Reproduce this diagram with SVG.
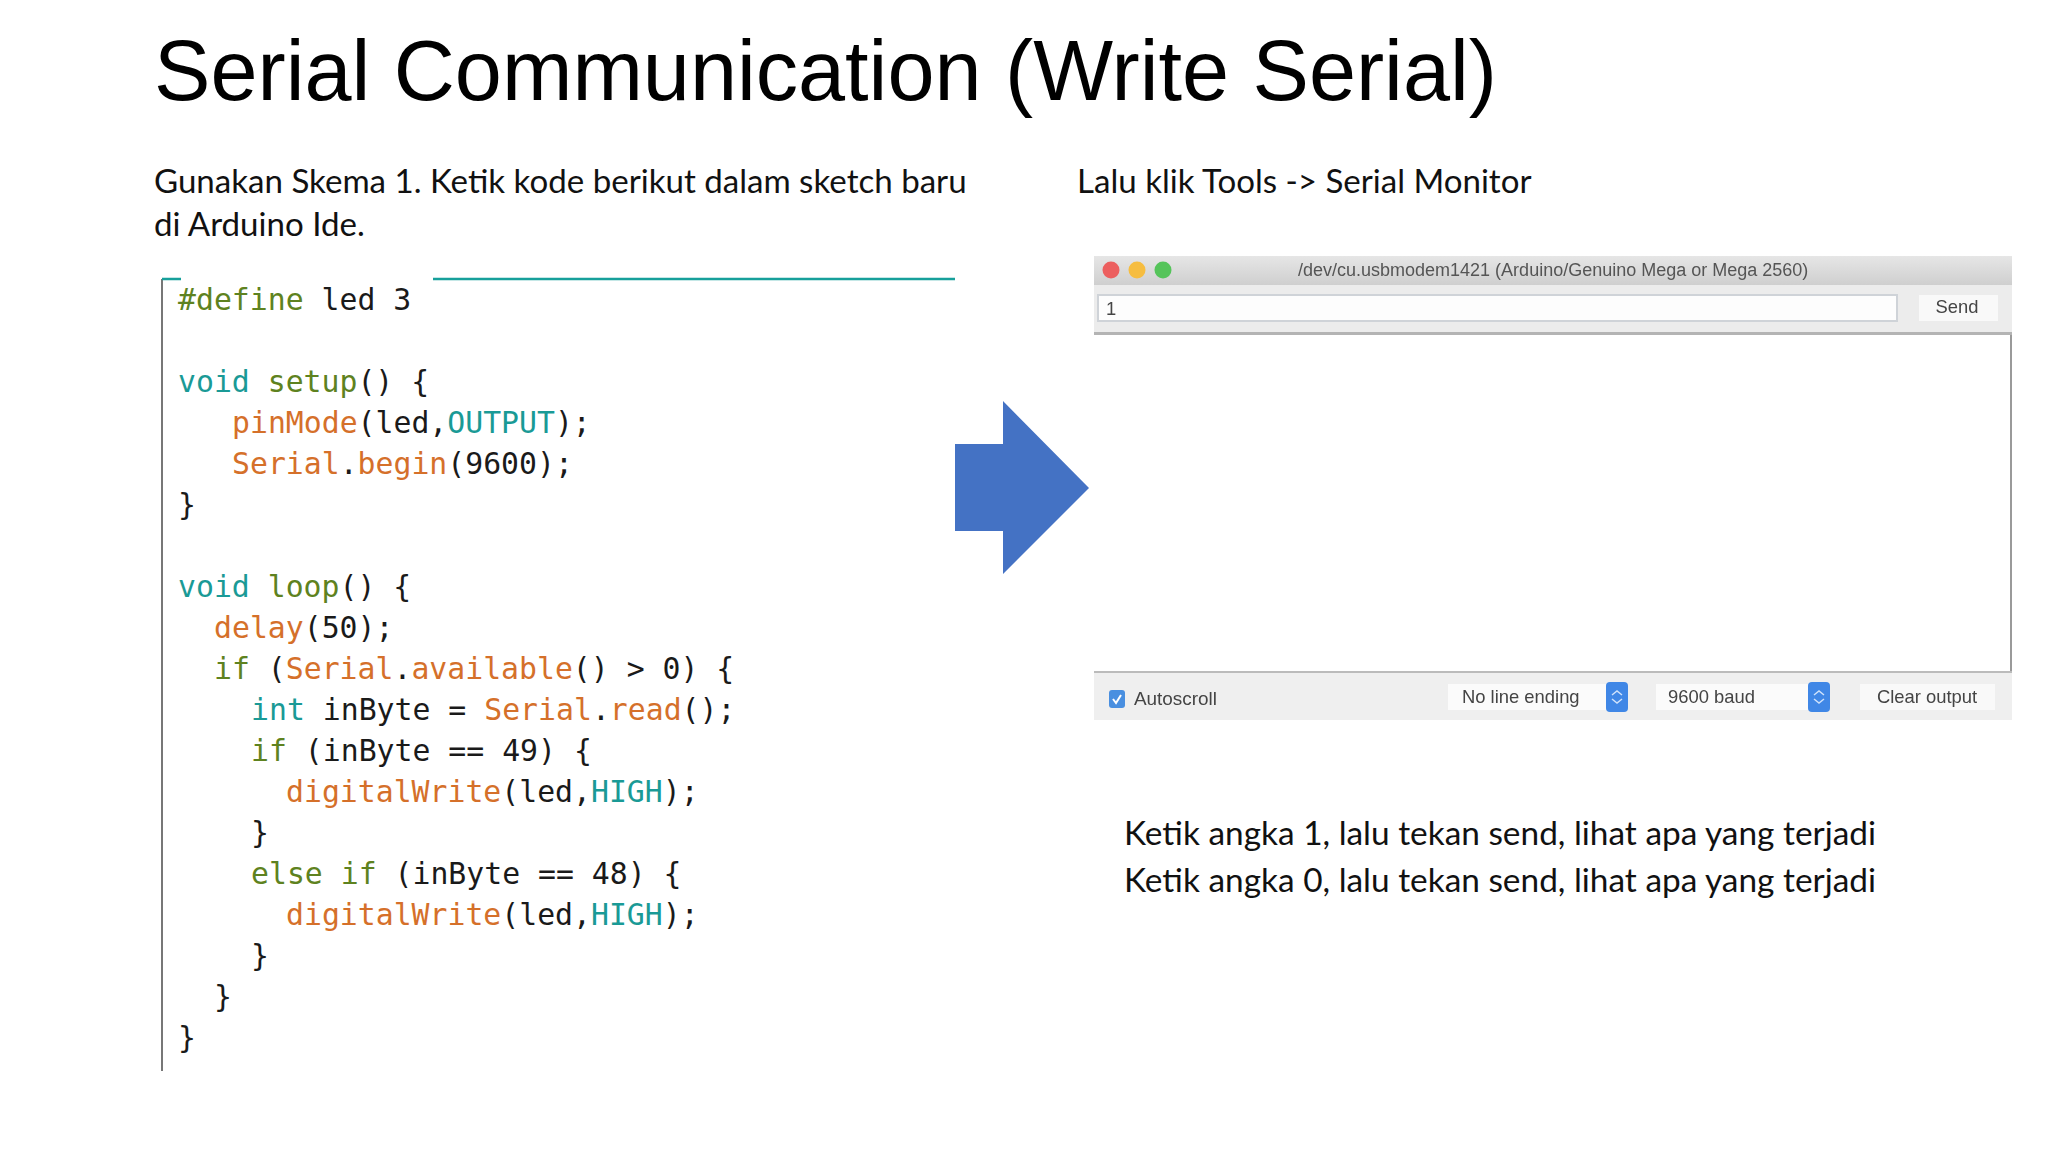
<svg xmlns="http://www.w3.org/2000/svg" width="2048" height="1152" viewBox="0 0 2048 1152">
<style>
text{white-space:pre}
.t{font-family:"Liberation Sans",Arial,sans-serif;font-size:84.6px;fill:#000}
.b{font-family:Lato,"Open Sans",sans-serif;font-size:33.1px;fill:#111}
.n2{font-size:33.4px}
.c{font-family:"DejaVu Sans Mono",monospace;font-size:29.8px;fill:#1a1a1a}
.k{fill:#5e8220}.f{fill:#d5702a}.n{fill:#1a9a96}
.u{font-family:"Liberation Sans",Arial,sans-serif;font-size:18.4px;fill:#444}
.st{fill:none;stroke:#cfe2fb;stroke-width:1.5}
</style>
<defs>
<linearGradient id="bar" x1="0" y1="0" x2="0" y2="1"><stop offset="0" stop-color="#e6e6e6"/><stop offset="1" stop-color="#cfcfcf"/></linearGradient>
<filter id="soft" x="0" y="0" width="1" height="1"><feGaussianBlur stdDeviation="0.6"/></filter>
</defs>
<rect width="2048" height="1152" fill="#fff"/>
<g id="title"><text class="t" x="154" y="100">Serial Communication (Write Serial)</text></g>
<g id="intro">
<text class="b" x="154" y="193">Gunakan Skema 1. Ketik kode berikut dalam sketch baru</text>
<text class="b" x="154" y="236">di Arduino Ide.</text>
<text class="b" x="1077" y="193">Lalu klik Tools -&gt; Serial Monitor</text>
</g>
<g id="code">
<path d="M162 1071V279" fill="none" stroke="#777" stroke-width="2"/>
<path d="M162 279H181M433 279H955" fill="none" stroke="#17a09b" stroke-width="2.5"/>
<text class="c" x="178" y="310"><tspan class="k">#define</tspan> led 3</text>
<text class="c" x="178" y="392"><tspan class="n">void</tspan> <tspan class="k">setup</tspan>() {</text>
<text class="c" x="232" y="433"><tspan class="f">pinMode</tspan>(led,<tspan class="n">OUTPUT</tspan>);</text>
<text class="c" x="232" y="474"><tspan class="f">Serial</tspan>.<tspan class="f">begin</tspan>(9600);</text>
<text class="c" x="178" y="515">}</text>
<text class="c" x="178" y="597"><tspan class="n">void</tspan> <tspan class="k">loop</tspan>() {</text>
<text class="c" x="214" y="638"><tspan class="f">delay</tspan>(50);</text>
<text class="c" x="214" y="679"><tspan class="k">if</tspan> (<tspan class="f">Serial</tspan>.<tspan class="f">available</tspan>() &gt; 0) {</text>
<text class="c" x="251" y="720"><tspan class="n">int</tspan> inByte = <tspan class="f">Serial</tspan>.<tspan class="f">read</tspan>();</text>
<text class="c" x="251" y="761"><tspan class="k">if</tspan> (inByte == 49) {</text>
<text class="c" x="286" y="802"><tspan class="f">digitalWrite</tspan>(led,<tspan class="n">HIGH</tspan>);</text>
<text class="c" x="251" y="843">}</text>
<text class="c" x="251" y="884"><tspan class="k">else if</tspan> (inByte == 48) {</text>
<text class="c" x="286" y="925"><tspan class="f">digitalWrite</tspan>(led,<tspan class="n">HIGH</tspan>);</text>
<text class="c" x="251" y="966">}</text>
<text class="c" x="214" y="1007">}</text>
<text class="c" x="178" y="1048">}</text>
</g>
<g id="arrow"><path d="M955 444H1003V401L1089 488L1003 574V531H955Z" fill="#4472c4"/></g>
<g id="serial-monitor" filter="url(#soft)">
<rect x="1094" y="256" width="918" height="463" fill="#fff"/>
<rect x="1094" y="256" width="918" height="29" fill="url(#bar)"/>
<rect x="1094" y="285" width="918" height="50" fill="#ececec"/>
<rect x="1094" y="332" width="918" height="3" fill="#b4b4b4"/>
<circle cx="1111" cy="270" r="8.500" fill="#ec5f5f"/><circle cx="1137" cy="270" r="8.500" fill="#f6bd3f"/><circle cx="1163" cy="270" r="8.500" fill="#54c45a"/>
<text class="u" x="1298" y="276" style="font-size:18px;fill:#555">/dev/cu.usbmodem1421 (Arduino/Genuino Mega or Mega 2560)</text>
<rect x="1098" y="295" width="799" height="26" fill="#fdfdfd" stroke="#cfd3d8" stroke-width="2"/>
<text class="u" x="1106" y="315">1</text>
<rect x="1919" y="295" width="79" height="26" fill="#f9f9f9"/>
<text class="u" x="1957" y="313" text-anchor="middle">Send</text>
<rect x="2010" y="335" width="2" height="384" fill="#9a9a9a"/>
<rect x="1094" y="673" width="918" height="47" fill="#efefef"/>
<rect x="1094" y="671" width="918" height="2" fill="#bbb"/>
<rect x="1109" y="690" width="16" height="18" rx="3" fill="#4a8fe0"/>
<path d="M1113 699l3 4l5-8" fill="none" stroke="#fff" stroke-width="2"/>
<text class="u" x="1134" y="705" style="font-size:18.900px">Autoscroll</text>
<rect x="1448" y="684" width="158" height="26" fill="#fbfbfb"/>
<rect x="1606" y="682" width="22" height="30" rx="4" fill="#3f87e6"/>
<path class="st" d="M1612 695l5-4l5 4M1612 699l5 4l5-4"/>
<text class="u" x="1462" y="703">No line ending</text>
<rect x="1656" y="684" width="152" height="26" fill="#fbfbfb"/>
<rect x="1808" y="682" width="22" height="30" rx="4" fill="#3f87e6"/>
<path class="st" d="M1814 695l5-4l5 4M1814 699l5 4l5-4"/>
<text class="u" x="1668" y="703">9600 baud</text>
<rect x="1860" y="684" width="135" height="26" fill="#f9f9f9"/>
<text class="u" x="1927" y="703" text-anchor="middle">Clear output</text>
</g>
<g id="note">
<text class="b n2" x="1124" y="845">Ketik angka 1, lalu tekan send, lihat apa yang terjadi</text>
<text class="b n2" x="1124" y="892">Ketik angka 0, lalu tekan send, lihat apa yang terjadi</text>
</g>
</svg>
